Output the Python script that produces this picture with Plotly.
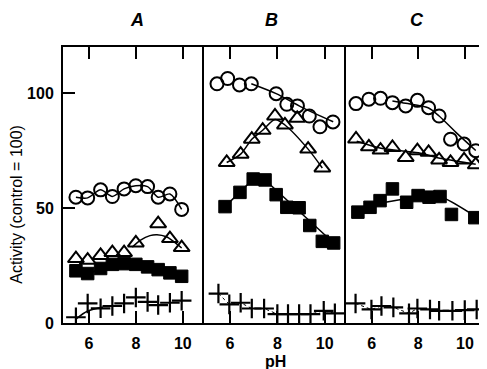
import plotly.graph_objects as go

# ---------------- data ----------------
# Panel A
a_ph = [5.45, 5.95, 6.5, 7.0, 7.5, 8.0, 8.5, 8.95, 9.45, 9.95]
a_circle = [54.7, 54.4, 57.9, 55.0, 58.3, 59.7, 59.3, 54.7, 56.1, 49.4]
a_tri_ph = [5.45, 5.95, 6.5, 7.0, 7.5, 8.0, 8.95, 9.45, 9.95]
a_tri = [28.0, 27.3, 29.4, 30.6, 30.6, 34.8, 43.2, 36.7, 32.8]
a_square = [22.7, 21.5, 23.7, 25.5, 25.8, 25.5, 24.4, 23.2, 21.8, 20.3]
a_plus = [2.5, 8.5, 6.4, 7.4, 8.5, 11.1, 9.2, 7.8, 8.8, 9.7]
a_tri_fit_ph = [7.85, 8.2, 8.6, 8.9, 9.3, 9.6, 9.95]
a_tri_fit = [33.0, 36.0, 38.0, 38.4, 37.5, 35.5, 32.6]
a_plus_fit_ph = [5.45, 5.95, 6.6]
a_plus_fit = [1.7, 5.2, 7.0]

# Panel B
b_circle_ph = [5.45, 5.9, 6.4, 6.9, 7.95, 8.4, 8.85, 9.35, 9.8, 10.35]
b_circle = [104.0, 106.3, 103.5, 104.0, 99.7, 95.1, 94.4, 90.0, 85.3, 87.4]
b_circle_fit_ph = [6.9, 7.95, 9.0, 10.36]
b_circle_fit = [104.0, 99.7, 94.0, 87.5]
b_tri_ph = [5.86, 6.45, 6.92, 7.38, 7.9, 8.32, 8.84, 9.3, 9.9]
b_tri = [69.8, 73.4, 79.9, 83.8, 90.0, 86.1, 89.0, 75.6, 67.4]
b_tri_fit_ph = [5.86, 6.45, 6.92, 7.38, 7.9, 8.32, 9.3, 9.9]
b_tri_fit = [69.8, 73.4, 79.9, 83.8, 88.5, 86.1, 75.6, 67.4]
b_square_ph = [5.79, 6.42, 6.98, 7.48, 7.95, 8.4, 8.92, 9.37, 9.9, 10.38]
b_square = [50.6, 56.8, 62.6, 62.2, 55.8, 50.3, 50.1, 42.4, 35.5, 34.8]
b_square_fit_ph = [5.79, 6.42, 6.98, 7.48, 10.38]
b_square_fit = [50.6, 56.8, 62.6, 62.2, 34.8]
b_plus_ph = [5.51, 5.97, 6.45, 6.92, 7.44, 8.0, 8.45, 8.92, 9.4, 9.96, 10.43]
b_plus = [12.8, 8.1, 8.8, 6.3, 6.3, 3.9, 3.9, 3.9, 3.9, 5.3, 4.2]

# Panel C
c_ph = [5.33, 5.88, 6.38, 6.89, 7.46, 7.96, 8.44, 8.89, 9.38, 9.96, 10.46]
c_circle = [95.4, 97.3, 97.7, 95.8, 94.4, 96.8, 93.6, 90.0, 79.9, 77.8, 74.9]
c_circle_fit_ph = [6.89, 7.46, 8.42, 8.89, 9.6, 10.46]
c_circle_fit = [96.5, 95.5, 93.6, 90.0, 83.0, 75.0]
c_tri = [80.0, 76.6, 75.2, 76.3, 72.0, 74.9, 74.2, 70.9, 69.8, 70.9, 68.8]
c_tri_fit_ph = [5.36, 6.4, 8.0, 9.0, 10.46]
c_tri_fit = [79.0, 76.0, 74.0, 71.5, 69.0]
c_square_ph = [5.41, 5.93, 6.36, 6.89, 7.5, 7.99, 8.46, 8.93, 9.42, 10.42]
c_square = [48.2, 50.3, 53.2, 58.3, 52.5, 55.4, 54.7, 55.0, 47.2, 45.8]
c_square_fit_ph = [5.41, 6.4, 7.5, 8.4, 8.93, 10.42]
c_square_fit = [48.5, 52.0, 54.0, 55.0, 55.0, 46.5]
c_plus_ph = [5.31, 5.99, 6.42, 6.93, 7.6, 7.96, 8.5, 8.89, 9.46, 9.99, 10.5]
c_plus = [8.5, 5.9, 7.4, 6.8, 4.2, 6.3, 5.9, 5.3, 5.3, 5.6, 5.9]

panel_titles = ["A", "B", "C"]
x_ticks = [6, 8, 10]
y_ticks = [0, 50, 100]

# ---------------- figure ----------------
fig = go.Figure()
BLACK = "black"
FONT = "Liberation Sans"

def fit(x, y, ax, width=1.5, dash="solid", shape="spline"):
    fig.add_trace(go.Scatter(x=x, y=y, mode="lines", xaxis=ax[0], yaxis=ax[1],
                             line=dict(color=BLACK, width=width, dash=dash, shape=shape,
                                       smoothing=0.8),
                             hoverinfo="skip", showlegend=False))

def pts(x, y, ax, kind):
    if kind == "circle":
        m = dict(symbol="circle-open", size=13, color=BLACK, line=dict(width=2, color=BLACK))
    elif kind == "tri":
        m = dict(symbol="triangle-up-open", size=14, color=BLACK, line=dict(width=2, color=BLACK))
    elif kind == "square":
        m = dict(symbol="square", size=12.5, color=BLACK, line=dict(width=1, color=BLACK))
    else:
        m = dict(symbol="cross-thin-open", size=14, color=BLACK, line=dict(width=2.2, color=BLACK))
    fig.add_trace(go.Scatter(x=x, y=y, mode="markers", xaxis=ax[0], yaxis=ax[1],
                             marker=m, showlegend=False))

A = ("x", "y")
B = ("x2", "y2")
C = ("x3", "y3")

# Panel A
fit(a_ph, a_circle, A, shape="spline")
fit(a_tri_fit_ph, a_tri_fit, A)
fit(a_ph, a_square, A)
fit(a_plus_fit_ph, a_plus_fit, A)
pts(a_ph, a_circle, A, "circle")
pts(a_tri_ph, a_tri, A, "tri")
pts(a_ph, a_square, A, "square")
pts(a_ph, a_plus, A, "plus")

# Panel B
fit(b_circle_fit_ph, b_circle_fit, B)
fit(b_tri_fit_ph, b_tri_fit, B)
fit(b_square_fit_ph, b_square_fit, B, shape="linear")
fit(b_plus_ph, b_plus, B, width=1, dash="dot", shape="linear")
pts(b_circle_ph, b_circle, B, "circle")
pts(b_tri_ph, b_tri, B, "tri")
pts(b_square_ph, b_square, B, "square")
pts(b_plus_ph, b_plus, B, "plus")

# Panel C
fit(c_circle_fit_ph, c_circle_fit, C)
fit(c_tri_fit_ph, c_tri_fit, C)
fit(c_square_fit_ph, c_square_fit, C)
fit(c_plus_ph, c_plus, C, width=1, dash="dot", shape="linear")
pts(c_ph, c_circle, C, "circle")
pts(c_ph, c_tri, C, "tri")
pts(c_square_ph, c_square, C, "square")
pts(c_plus_ph, c_plus, C, "plus")

d1, d2 = 0.3333, 0.669
xcommon = dict(range=[4.9, 10.9], tickvals=x_ticks, ticks="inside", ticklen=12,
               tickwidth=1.5, tickcolor=BLACK, showline=True, linewidth=2, linecolor=BLACK,
               mirror="ticks", showgrid=False, zeroline=False, ticklabelstandoff=5,
               tickfont=dict(family=FONT, size=16, color=BLACK, weight="bold"))
ycommon = dict(range=[0, 120], showgrid=False, zeroline=False, showline=True,
               linewidth=2, linecolor=BLACK)

# page body has an 8px default margin, so the figure is drawn 8px in from the corner
fig.update_layout(
    width=479, height=361,
    margin=dict(l=55, r=1, t=39, b=46),
    paper_bgcolor="white", plot_bgcolor="white",
    xaxis=dict(domain=[0, d1], anchor="y", **xcommon),
    xaxis2=dict(domain=[d1, d2], anchor="y2", **xcommon),
    xaxis3=dict(domain=[d2, 1], anchor="y3", **xcommon),
    yaxis=dict(anchor="x", tickvals=y_ticks, ticks="inside", ticklen=12, tickwidth=1.5,
               tickcolor=BLACK, ticklabelstandoff=4,
               tickfont=dict(family=FONT, size=16, color=BLACK, weight="bold"), **ycommon),
    yaxis2=dict(anchor="x2", matches="y", showticklabels=False, ticks="", **ycommon),
    yaxis3=dict(anchor="x3", matches="y", showticklabels=False, ticks="", **ycommon),
    yaxis4=dict(anchor="x3", overlaying="y3", side="right", range=[0, 120], tickvals=[50, 100],
                ticks="inside", ticklen=11, tickwidth=1.5, tickcolor=BLACK,
                showticklabels=False, showgrid=False, zeroline=False, showline=True,
                linewidth=1, linecolor="#aaaaaa"),
    showlegend=False,
)

annotations = []
for txt, xc in zip(panel_titles, [0.175, 0.494, 0.836]):
    annotations.append(dict(text=txt, x=xc, y=1.098, xref="paper", yref="paper",
                            showarrow=False, xanchor="center", yanchor="middle",
                            font=dict(family=FONT, size=18, color=BLACK, style="italic",
                                      weight="bold")))
annotations.append(dict(text="pH", x=0.502, y=-0.14, xref="paper", yref="paper",
                        showarrow=False, xanchor="center", yanchor="middle",
                        font=dict(family=FONT, size=16, color=BLACK, weight="bold")))
annotations.append(dict(text="Activity (control = 100)", x=-0.11, y=0.43, xref="paper",
                        yref="paper", showarrow=False, textangle=-90,
                        xanchor="center", yanchor="middle",
                        font=dict(family=FONT, size=16, color=BLACK)))
fig.update_layout(annotations=annotations)

fig.write_html("out.html")
